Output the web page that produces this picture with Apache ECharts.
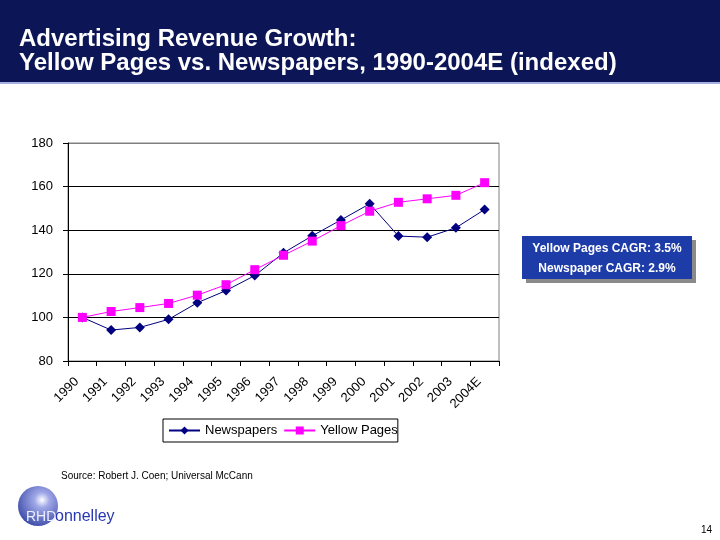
<!DOCTYPE html>
<html>
<head>
<meta charset="utf-8">
<script src="https://cdn.jsdelivr.net/npm/echarts@6/dist/echarts.min.js"></script>
<style>html,body{margin:0;padding:0;background:#fff}#c{width:720px;height:540px}</style>
</head>
<body>
<div id="c"></div>
<script>
var categories = ['1990','1991','1992','1993','1994','1995','1996','1997','1998','1999','2000','2001','2002','2003','2004E'];
var newspapers = [100, 94.2, 95.4, 99.1, 106.7, 112.3, 119.2, 129.6, 137.4, 144.7, 152.1, 137.3, 136.8, 141.1, 149.5];
var yellowPages = [100, 102.7, 104.5, 106.4, 110.2, 115, 121.9, 128.5, 135, 142.1, 148.7, 152.8, 154.4, 156, 161.8];
var yTicks = [80, 100, 120, 140, 160, 180];

var chart = echarts.init(document.getElementById('c'), null, {renderer:'canvas'});
chart.setOption({
  animation: false,
  backgroundColor: '#ffffff',
  textStyle: {fontFamily: 'Liberation Sans, Arial, sans-serif'},
  grid: {left: 68, right: 221, top: 143, bottom: 179, show: true, borderColor: '#808080', borderWidth: 1, backgroundColor: 'transparent'},
  xAxis: {
    type: 'category', data: categories, boundaryGap: true,
    axisLine: {lineStyle: {color: '#000', width: 1}},
    axisTick: {show: true, inside: false, length: 5, lineStyle: {color: '#000'}},
    axisLabel: {rotate: 45, color: '#000', fontSize: 13, margin: 13, interval: 0, padding: [0, 8, 0, 0]}
  },
  yAxis: {
    type: 'value', min: yTicks[0], max: yTicks[yTicks.length-1], interval: 20,
    axisLine: {show: true, lineStyle: {color: '#000'}},
    axisTick: {show: true, length: 5, lineStyle: {color: '#000'}},
    axisLabel: {color: '#000', fontSize: 13, margin: 15},
    splitLine: {show: true, lineStyle: {color: ['#000','#000','#000','#000','#000','#808080'], width: 1}}
  },
  legend: {
    show: true, left: 163, top: 419, height: 24,
    borderColor: '#000', borderWidth: 1, padding: [5, 0, 5, 5], itemGap: 6,
    itemWidth: 31, itemHeight: 10,
    textStyle: {color: '#000', fontSize: 13},
    data: ['Newspapers', 'Yellow Pages']
  },
  series: [
    {name: 'Newspapers', type: 'line', data: newspapers, symbol: 'diamond', symbolSize: 10,
     lineStyle: {color: '#000080', width: 1}, itemStyle: {color: '#000080'}},
    {name: 'Yellow Pages', type: 'line', data: yellowPages, symbol: 'rect', symbolSize: 9,
     lineStyle: {color: '#ff00ff', width: 1}, itemStyle: {color: '#ff00ff'}}
  ],
  graphic: [
    {type: 'rect', shape: {x: 0, y: 0, width: 720, height: 82}, style: {fill: '#0c1656'}, z: 0},
    {type: 'rect', shape: {x: 0, y: 82, width: 720, height: 2}, style: {fill: '#a8b0e0'}, z: 0},
    {type: 'text', x: 19, y: 39, z: 5, style: {text: 'Advertising Revenue Growth:', fill: '#fff', verticalAlign: 'middle', font: 'bold 24px "Liberation Sans", Arial, sans-serif'}},
    {type: 'text', x: 19, y: 63, z: 5, style: {text: 'Yellow Pages vs. Newspapers, 1990-2004E (indexed)', fill: '#fff', verticalAlign: 'middle', font: 'bold 24px "Liberation Sans", Arial, sans-serif'}},
    {type: 'rect', shape: {x: 526, y: 240, width: 170, height: 43}, style: {fill: '#8a8a8a'}, z: 4},
    {type: 'rect', shape: {x: 522, y: 236, width: 170, height: 43}, style: {fill: '#1e3ca8'}, z: 5},
    {type: 'text', x: 607, y: 249, z: 6, style: {text: 'Yellow Pages CAGR: 3.5%', fill: '#fff', align: 'center', verticalAlign: 'middle', font: 'bold 12px "Liberation Sans", Arial, sans-serif'}},
    {type: 'text', x: 607, y: 269, z: 6, style: {text: 'Newspaper CAGR: 2.9%', fill: '#fff', align: 'center', verticalAlign: 'middle', font: 'bold 12px "Liberation Sans", Arial, sans-serif'}},
    {type: 'text', x: 61, y: 476, z: 6, style: {text: 'Source: Robert J. Coen; Universal McCann', fill: '#000', verticalAlign: 'middle', font: '10px "Liberation Sans", Arial, sans-serif'}},
    {type: 'circle', shape: {cx: 38, cy: 506, r: 20}, z: 5, style: {fill: {type: 'radial', x: 0.6, y: 0.35, r: 0.75, colorStops: [{offset: 0, color: '#ffffff'}, {offset: 0.25, color: '#a0a8e8'}, {offset: 1, color: '#3040a0'}]}}},
    {type: 'text', x: 26, y: 517, z: 6, style: {text: 'RHD', fill: '#eef0ff', verticalAlign: 'middle', font: '14px "Liberation Sans", Arial, sans-serif'}},
    {type: 'text', x: 55, y: 517, z: 6, style: {text: 'onnelley', fill: '#2838b0', verticalAlign: 'middle', font: '16px "Liberation Sans", Arial, sans-serif'}},
    {type: 'text', x: 712, y: 530, z: 6, style: {text: '14', fill: '#000', align: 'right', verticalAlign: 'middle', font: '10px "Liberation Sans", Arial, sans-serif'}}
  ]
});
</script>
</body>
</html>
